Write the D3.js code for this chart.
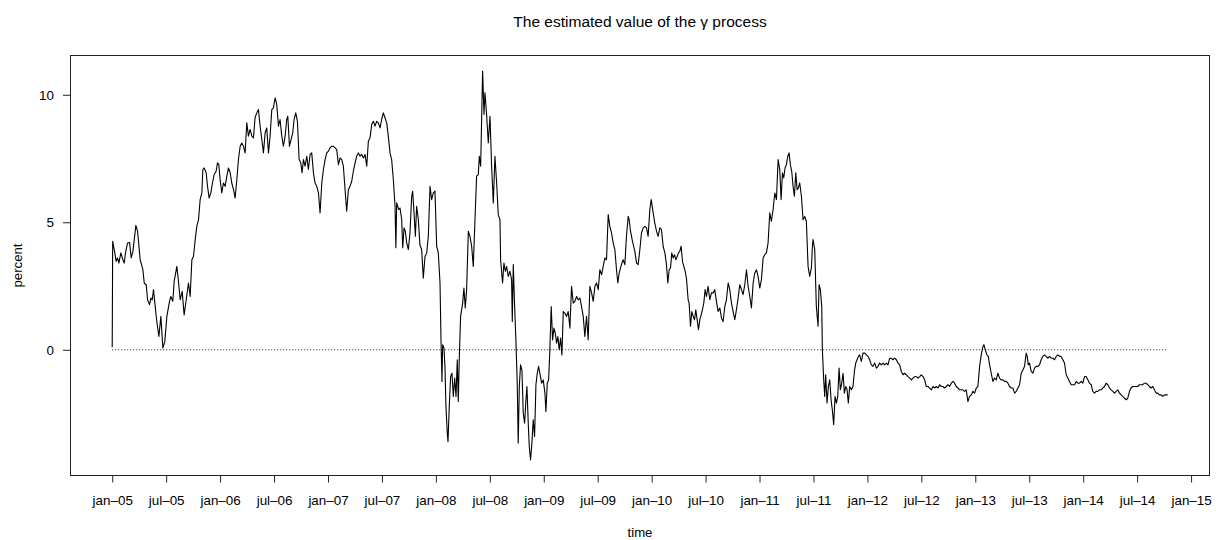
<!DOCTYPE html>
<html><head><meta charset="utf-8">
<script src="https://cdn.jsdelivr.net/npm/d3@7/dist/d3.min.js"></script>
<style>body{margin:0;background:#fff}</style>
</head><body>
<script>
// months since January 2005
const months = [0.00,0.05,0.26,0.44,0.59,0.74,0.96,1.19,1.33,1.48,1.70,1.93,2.11,2.30,2.45,2.63,2.82,3.11,3.41,3.56,3.78,3.93,4.15,4.30,4.45,4.59,4.78,4.96,5.19,5.41,5.63,5.85,6.08,6.37,6.52,6.74,6.89,7.19,7.37,7.56,7.78,8.00,8.23,8.48,8.67,8.86,9.04,9.23,9.41,9.60,9.78,9.97,10.08,10.23,10.45,10.60,10.78,10.97,11.15,11.34,11.56,11.71,11.86,12.00,12.19,12.37,12.56,12.75,12.93,13.12,13.30,13.49,13.67,13.86,14.04,14.23,14.41,14.60,14.78,14.97,15.15,15.34,15.53,15.71,15.89,16.08,16.26,16.45,16.64,16.82,17.01,17.19,17.38,17.56,17.75,17.93,18.12,18.30,18.49,18.67,18.86,19.04,19.23,19.41,19.53,19.71,19.90,20.08,20.23,20.41,20.60,20.79,20.97,21.12,21.27,21.45,21.64,21.82,22.01,22.19,22.38,22.56,22.75,22.94,23.12,23.31,23.49,23.68,23.86,24.05,24.23,24.42,24.60,24.79,24.97,25.16,25.34,25.53,25.71,25.90,26.08,26.27,26.45,26.64,26.82,27.01,27.19,27.38,27.57,27.75,27.94,28.12,28.31,28.49,28.68,28.86,29.05,29.23,29.42,29.60,29.79,29.97,30.16,30.34,30.53,30.71,30.90,31.08,31.27,31.46,31.55,31.64,31.86,32.01,32.20,32.31,32.46,32.60,32.75,32.94,33.12,33.31,33.42,33.57,33.72,33.86,34.05,34.23,34.42,34.60,34.79,34.98,35.16,35.35,35.53,35.72,35.90,36.09,36.27,36.46,36.57,36.68,36.75,36.90,37.01,37.12,37.27,37.35,37.49,37.64,37.79,37.94,38.09,38.24,38.38,38.49,38.61,38.75,38.98,39.12,39.27,39.42,39.61,39.79,39.98,40.16,40.35,40.53,40.72,40.83,40.98,41.09,41.20,41.35,41.46,41.64,41.83,42.02,42.20,42.39,42.57,42.76,42.94,43.13,43.20,43.42,43.57,43.72,43.87,44.05,44.24,44.42,44.50,44.61,44.76,44.90,45.05,45.16,45.28,45.42,45.57,45.72,45.87,46.02,46.13,46.28,46.39,46.53,46.68,46.83,46.98,47.13,47.28,47.42,47.57,47.76,47.94,48.13,48.24,48.39,48.54,48.68,48.83,48.98,49.13,49.28,49.43,49.57,49.72,49.87,50.02,50.17,50.35,50.54,50.72,50.91,51.09,51.28,51.46,51.65,51.83,52.02,52.20,52.39,52.57,52.76,52.94,53.13,53.32,53.50,53.69,53.87,54.06,54.24,54.43,54.61,54.80,54.98,55.17,55.35,55.54,55.72,55.91,56.09,56.24,56.39,56.54,56.69,56.83,57.02,57.20,57.39,57.50,57.65,57.87,58.13,58.32,58.50,58.69,58.87,59.06,59.24,59.43,59.61,59.80,59.95,60.17,60.35,60.54,60.72,60.91,61.09,61.28,61.47,61.65,61.80,61.95,62.10,62.24,62.39,62.54,62.69,62.84,62.98,63.13,63.28,63.43,63.58,63.73,63.87,64.06,64.17,64.32,64.47,64.62,64.77,64.91,65.06,65.21,65.36,65.51,65.65,65.80,65.95,66.10,66.28,66.47,66.65,66.84,67.02,67.21,67.39,67.58,67.77,67.95,68.14,68.32,68.51,68.69,68.88,69.06,69.25,69.43,69.62,69.80,69.99,70.17,70.36,70.55,70.73,70.92,71.10,71.29,71.47,71.66,71.84,72.03,72.21,72.40,72.58,72.77,72.95,73.14,73.32,73.51,73.70,73.88,74.07,74.25,74.40,74.55,74.69,74.84,74.99,75.14,75.29,75.43,75.58,75.73,75.88,76.03,76.18,76.32,76.47,76.66,76.84,77.03,77.21,77.30,77.40,77.58,77.77,77.88,77.95,78.14,78.32,78.51,78.62,78.77,78.92,78.99,79.14,79.25,79.36,79.51,79.66,79.81,79.96,80.10,80.25,80.40,80.55,80.70,80.85,80.99,81.14,81.29,81.44,81.59,81.74,81.88,82.03,82.22,82.40,82.55,82.70,82.85,83.00,83.14,83.33,83.51,83.70,83.88,84.07,84.25,84.44,84.62,84.81,85.00,85.18,85.36,85.55,85.74,85.92,86.11,86.29,86.48,86.66,86.85,87.03,87.22,87.40,87.59,87.77,87.96,88.14,88.33,88.51,88.70,88.89,89.07,89.26,89.44,89.63,89.81,90.00,90.18,90.37,90.55,90.74,90.92,91.11,91.29,91.48,91.66,91.85,92.03,92.22,92.40,92.59,92.77,92.96,93.14,93.33,93.51,93.70,93.88,94.07,94.25,94.44,94.62,94.81,94.99,95.18,95.36,95.55,95.74,95.92,96.11,96.29,96.48,96.66,96.85,96.96,97.11,97.29,97.44,97.59,97.77,97.96,98.14,98.33,98.51,98.70,98.89,99.07,99.26,99.44,99.63,99.81,100.00,100.18,100.37,100.55,100.74,100.92,101.11,101.29,101.48,101.66,101.78,101.89,102.03,102.22,102.40,102.59,102.77,102.96,103.14,103.33,103.51,103.70,103.88,104.07,104.26,104.44,104.63,104.81,105.00,105.18,105.37,105.55,105.74,105.92,106.11,106.29,106.48,106.66,106.85,107.04,107.22,107.41,107.59,107.78,107.96,108.15,108.33,108.52,108.70,108.89,109.07,109.26,109.44,109.63,109.81,110.00,110.18,110.37,110.55,110.74,110.93,111.11,111.30,111.48,111.67,111.85,112.04,112.22,112.41,112.59,112.78,112.96,113.15,113.33,113.52,113.70,113.89,114.07,114.26,114.44,114.63,114.81,115.00,115.19,115.37,115.56,115.74,115.93,116.11,116.30,116.48,116.67,116.85,117.04,117.22,117.41];
// estimated gamma, percent
const values = [0.10,4.25,3.86,3.47,3.60,3.40,3.80,3.53,3.40,3.80,4.19,4.21,3.60,3.86,4.32,4.88,4.64,3.53,3.14,2.62,2.55,1.96,1.77,2.03,1.96,2.36,1.70,1.11,0.52,1.31,0.07,0.33,1.31,1.90,2.09,1.90,2.68,3.27,2.68,1.96,2.29,1.37,1.96,2.62,2.09,3.53,3.66,4.32,4.84,5.10,5.89,6.15,7.07,7.13,6.94,6.41,5.95,6.15,6.54,6.87,7.00,7.33,7.26,6.67,6.15,6.54,6.41,6.81,7.13,6.94,6.54,6.28,5.95,6.67,7.46,7.98,8.11,7.98,7.72,8.90,8.38,8.64,8.38,8.31,9.10,9.29,9.42,8.77,8.25,7.72,8.51,8.70,7.72,8.38,9.42,9.49,9.88,9.62,8.77,9.03,8.38,7.98,8.38,9.03,9.16,7.98,8.25,8.51,9.03,9.29,8.96,7.46,7.33,6.94,7.46,7.20,7.59,7.07,7.66,7.72,6.94,6.54,6.41,6.15,5.37,6.54,7.07,7.46,7.72,7.79,7.92,7.98,7.98,7.92,7.85,7.26,7.52,7.46,7.20,6.28,5.43,6.28,6.41,6.61,7.00,7.33,7.59,7.72,7.59,7.66,7.52,7.66,7.20,8.18,8.31,8.83,8.96,8.77,8.96,8.90,8.70,9.03,9.29,9.10,8.90,8.38,7.72,7.46,6.67,5.63,4.00,5.76,5.50,5.56,5.10,4.00,4.78,4.65,4.20,3.93,4.58,6.02,6.22,5.37,4.45,5.63,5.10,4.10,3.93,2.81,3.66,3.80,4.45,6.41,5.89,6.15,6.22,4.06,3.80,2.62,0.39,-1.24,0.20,0.07,-0.65,-2.22,-3.27,-3.60,-2.22,-1.05,-0.92,-1.83,-1.11,-1.83,-0.39,-2.03,-0.26,1.31,1.83,2.42,1.64,2.36,4.65,4.45,4.06,3.27,5.10,6.81,6.87,7.59,7.20,9.03,10.93,9.23,10.08,9.23,8.11,9.16,7.20,5.76,7.59,6.54,5.30,5.10,3.53,2.62,3.40,3.08,3.27,2.88,3.08,2.75,1.11,3.34,1.70,0.39,-1.31,-3.66,-1.44,-0.59,-0.79,-2.49,-2.88,-1.96,-1.44,-2.94,-3.80,-4.32,-3.66,-2.75,-3.40,-1.37,-0.92,-0.65,-0.92,-1.31,-1.18,-1.70,-2.42,-1.31,-1.18,0.00,1.70,0.39,0.85,0.65,0.26,0.52,0.00,0.46,-0.20,1.50,1.44,1.31,1.50,0.85,2.49,1.83,1.90,2.09,1.96,2.03,1.70,1.31,0.52,1.31,0.39,2.49,2.23,1.90,2.49,2.62,2.36,3.14,2.94,3.27,3.60,3.53,5.30,4.84,4.58,4.19,3.93,3.14,2.62,3.01,3.21,3.40,3.53,3.34,4.45,5.23,5.10,4.65,4.25,3.86,3.40,3.34,3.93,4.58,4.78,4.84,4.78,4.45,5.50,5.89,5.37,4.97,4.65,4.45,4.78,4.71,4.06,3.80,3.34,2.62,3.14,3.21,3.80,3.60,3.73,3.53,3.66,3.80,3.86,4.06,3.47,3.27,3.08,2.81,1.96,1.83,0.92,1.50,1.31,1.18,1.57,1.18,0.79,1.18,1.37,1.57,1.83,2.36,2.09,2.49,1.96,2.23,2.23,2.36,1.90,1.50,1.64,1.24,1.11,1.70,1.96,2.62,2.36,1.83,1.50,1.18,1.57,2.03,2.55,2.36,2.16,2.55,3.14,2.49,2.09,1.64,2.62,3.01,3.14,2.88,2.42,2.75,3.60,3.73,3.80,4.19,5.37,5.04,5.50,6.15,5.89,7.46,7.07,5.89,6.94,6.74,7.13,7.26,7.59,7.72,7.26,7.00,6.41,6.02,6.94,6.28,6.35,6.54,6.02,5.10,5.23,5.04,4.20,3.27,2.88,3.21,4.06,4.32,3.93,1.70,0.92,2.55,2.36,1.70,0.00,-1.18,-1.83,-0.98,-2.09,-1.44,-1.18,-1.96,-2.36,-2.94,-1.83,-2.09,-1.83,-0.72,-1.57,-1.31,-0.92,-1.70,-1.44,-1.57,-2.09,-1.44,-1.57,-1.44,-0.85,-0.52,-0.39,-0.26,-0.20,-0.46,-0.13,-0.13,-0.20,-0.26,-0.39,-0.59,-0.65,-0.52,-0.72,-0.65,-0.52,-0.59,-0.52,-0.59,-0.52,-0.59,-0.33,-0.33,-0.39,-0.33,-0.39,-0.52,-0.59,-0.85,-0.98,-0.92,-0.98,-1.05,-1.11,-1.18,-1.11,-1.05,-1.05,-1.11,-1.05,-0.98,-1.05,-1.18,-1.44,-1.44,-1.50,-1.57,-1.44,-1.50,-1.44,-1.50,-1.37,-1.44,-1.44,-1.50,-1.44,-1.37,-1.44,-1.31,-1.24,-1.31,-1.44,-1.50,-1.57,-1.57,-1.57,-1.63,-1.57,-2.03,-1.83,-1.77,-1.63,-1.70,-1.50,-1.44,-0.65,-0.20,0.13,0.20,0.00,-0.20,-0.26,-0.59,-0.92,-1.24,-1.11,-1.18,-0.92,-1.11,-1.18,-1.18,-1.24,-1.24,-1.31,-1.44,-1.50,-1.50,-1.70,-1.63,-1.50,-1.37,-0.92,-0.79,-0.65,-0.13,-0.26,-0.59,-0.52,-0.85,-0.92,-0.72,-0.65,-0.65,-0.59,-0.39,-0.26,-0.20,-0.26,-0.33,-0.26,-0.33,-0.33,-0.39,-0.26,-0.20,-0.26,-0.26,-0.39,-0.52,-0.98,-1.11,-1.24,-1.37,-1.37,-1.37,-1.24,-1.31,-1.31,-1.24,-1.31,-1.05,-1.05,-1.18,-1.31,-1.37,-1.63,-1.70,-1.63,-1.63,-1.57,-1.57,-1.50,-1.44,-1.31,-1.37,-1.50,-1.57,-1.63,-1.70,-1.63,-1.57,-1.70,-1.77,-1.83,-1.90,-1.96,-1.90,-1.63,-1.50,-1.44,-1.44,-1.44,-1.44,-1.37,-1.37,-1.37,-1.31,-1.31,-1.37,-1.44,-1.50,-1.44,-1.57,-1.70,-1.70,-1.77,-1.77,-1.83,-1.77,-1.77,-1.77];
const tickMonths = [0,6,12,18,24,30,36,42,48,54,60,66,72,78,84,90,96,102,108,114,120];
const tickLabels = ["jan–05","jul–05","jan–06","jul–06","jan–07","jul–07","jan–08","jul–08","jan–09","jul–09","jan–10","jul–10","jan–11","jul–11","jan–12","jul–12","jan–13","jul–13","jan–14","jul–14","jan–15"];
const yTicks = [0,5,10];
const titleText = "The estimated value of the γ process";
const xLabel = "time", yLabel = "percent";

const W = 1216, H = 540;
const L = 70, R = 1210, T = 55.5, B = 475.5;
const font = "'Liberation Sans', Arial, Helvetica, sans-serif";

const data = months.map((m, i) => ({m, v: values[i]}));
const xe = d3.extent(months), ye = d3.extent(values);
const xp = (xe[1] - xe[0]) * 0.04, yp = (ye[1] - ye[0]) * 0.04;
const x = d3.scaleLinear().domain([xe[0] - xp, xe[1] + xp]).range([L, R]);
const y = d3.scaleLinear().domain([ye[0] - yp, ye[1] + yp]).range([B, T]);

const svg = d3.select("body").append("svg").attr("width", W).attr("height", H)
  .style("font-family", font);

// zero reference line
svg.append("line")
  .attr("x1", x(xe[0])).attr("x2", x(xe[1]))
  .attr("y1", y(0)).attr("y2", y(0))
  .attr("stroke", "#222").attr("stroke-width", 1)
  .attr("stroke-dasharray", "1,2");

// series
svg.append("path").datum(data)
  .attr("fill", "none").attr("stroke", "#000").attr("stroke-width", 1.1)
  .attr("stroke-linejoin", "round")
  .attr("d", d3.line().x(d => x(d.m)).y(d => y(d.v)));

// box
svg.append("rect").attr("x", L + 0.5).attr("y", T).attr("width", R - L - 1).attr("height", B - T)
  .attr("fill", "none").attr("stroke", "#222").attr("stroke-width", 1);

// x axis
const xa = svg.append("g").attr("transform", `translate(0,${B})`)
  .call(d3.axisBottom(x).tickValues(tickMonths).tickFormat((d, i) => tickLabels[i]).tickSize(7).tickPadding(12.5));
xa.select(".domain").remove();
xa.selectAll("text").attr("font-size", 13.4).attr("font-family", font).attr("fill", "#000");
xa.selectAll("line").attr("stroke", "#222");

// y axis
const ya = svg.append("g").attr("transform", `translate(${L},0)`)
  .call(d3.axisLeft(y).tickValues(yTicks).tickFormat(d3.format("d")).tickSize(7).tickPadding(9));
ya.select(".domain").remove();
ya.selectAll("text").attr("font-size", 13.4).attr("font-family", font).attr("fill", "#000");
ya.selectAll("line").attr("stroke", "#222");

// titles
svg.append("text").attr("x", (L + R) / 2).attr("y", 27).attr("text-anchor", "middle")
  .attr("font-size", 15.5).text(titleText);
svg.append("text").attr("x", (L + R) / 2).attr("y", 537).attr("text-anchor", "middle")
  .attr("font-size", 13.2).text(xLabel);
svg.append("text").attr("transform", `translate(22,${(T + B) / 2}) rotate(-90)`)
  .attr("text-anchor", "middle").attr("font-size", 13.2).text(yLabel);
</script>
</body></html>
